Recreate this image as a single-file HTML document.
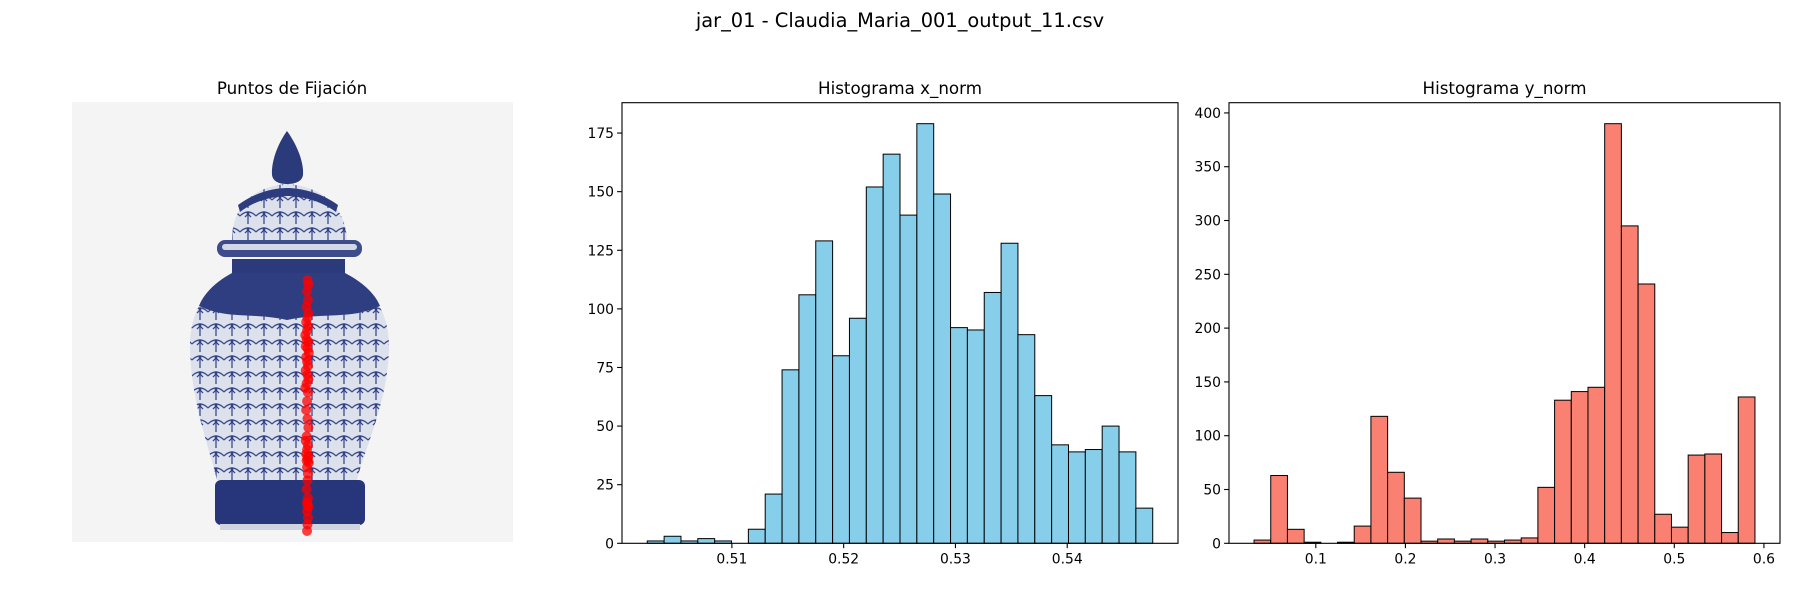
<!DOCTYPE html>
<html><head><meta charset="utf-8">
<style>
html,body{margin:0;padding:0;background:#fff;}
svg{display:block;font-family:"DejaVu Sans","Liberation Sans",sans-serif;}
</style></head>
<body>
<svg id="fig" width="1800" height="600" viewBox="0 0 1800 600" xmlns="http://www.w3.org/2000/svg">
<defs>
<pattern id="motif" width="16" height="16" patternUnits="userSpaceOnUse">
<rect width="16" height="16" fill="#dde1ec"/>
<path d="M0 8 Q8 0 16 8 M8 16 Q8 10 8 6 M5 9 L8 6 L11 9" stroke="#3a4a8c" stroke-width="1.3" fill="none"/>
<circle cx="8" cy="5" r="1.4" fill="#2f3e80"/>
</pattern>
</defs>
<rect width="1800" height="600" fill="#fff"/>
<text x="900" y="27" font-size="19.4" text-anchor="middle" fill="#000">jar_01 - Claudia_Maria_001_output_11.csv</text>

<g>
<text x="292" y="94" font-size="16.7" text-anchor="middle">Puntos de Fijación</text>
<rect x="72" y="102" width="441" height="440" fill="#f4f4f4"/>
<g>
<path d="M287 131 C279 142 271 160 272 175 C273 182 280 184 287 184 C294 184 302 182 303 175 C304 160 295 142 287 131Z" fill="#2b3a7a"/>
<path d="M232 240 C232 205 255 186 287 184 C320 186 345 205 347 240Z" fill="url(#motif)"/>
<path d="M238 205 C255 192 275 188 287 188 C300 188 320 192 338 205 L336 212 C320 200 300 196 287 196 C275 196 255 200 240 212Z" fill="#2d3c7e"/>
<rect x="217" y="240" width="145" height="17" rx="8" fill="#3d4c8a"/>
<rect x="222" y="244" width="135" height="6" rx="3" fill="#d3d8e6"/>
<rect x="232" y="259" width="113" height="14" fill="#2b3a7a"/>
<path d="M232 273 C200 290 190 320 190 345 C190 400 210 450 217 480 L357 480 C364 450 389 400 389 345 C389 320 378 290 345 273Z" fill="url(#motif)"/>
<path d="M232 273 C212 284 203 296 199 306 C230 320 250 312 287 320 C325 312 350 320 380 306 C376 296 366 284 345 273Z" fill="#2f3e80"/>
<rect x="215" y="480" width="150" height="45" rx="6" fill="#27367a"/>
<rect x="220" y="524" width="140" height="6" fill="#d0d4de"/>
</g>
<g id="fix-points"></g>
</g>

<g id="hx"></g>
<g id="hy"></g>
</svg>
<script>
// Fixation points (fraction of image width / height)
const fixX = [0.534,0.536,0.533,0.535,0.532,0.536,0.534,0.531,0.535,0.533,0.529,0.532,0.536,0.530,0.534,0.537,0.531,0.533,0.535,0.530,0.534,0.536,0.532,0.529,0.535,0.533,0.531,0.534,0.536,0.532,0.530,0.535,0.533,0.531,0.536,0.534,0.532,0.537,0.533,0.535,0.534,0.532,0.535,0.533,0.534,0.536,0.533,0.535,0.534,0.533];
const fixY = [0.405,0.415,0.430,0.450,0.465,0.480,0.490,0.500,0.510,0.520,0.530,0.540,0.545,0.555,0.560,0.570,0.580,0.590,0.600,0.610,0.620,0.630,0.640,0.650,0.660,0.680,0.700,0.720,0.740,0.760,0.770,0.780,0.790,0.800,0.805,0.810,0.815,0.820,0.830,0.845,0.860,0.880,0.900,0.910,0.915,0.920,0.930,0.945,0.960,0.975];

const xCounts = [1,3,1,2,1,0,6,21,74,106,129,80,96,152,166,140,179,149,92,91,107,128,89,63,42,39,40,50,39,15];
const xMin = 0.50243, xMax = 0.54765;
const xTicks = [0.51,0.52,0.53,0.54];
const xTickLabels = ["0.51","0.52","0.53","0.54"];
const xYTicks = [0,25,50,75,100,125,150,175];

const yCounts = [3,63,13,1,0,1,16,118,66,42,2,4,2,4,2,3,5,52,133,141,145,390,295,241,27,15,82,83,10,136];
const yMin = 0.0311, yMax = 0.590;
const yTicks = [0.1,0.2,0.3,0.4,0.5,0.6];
const yTickLabels = ["0.1","0.2","0.3","0.4","0.5","0.6"];
const yYTicks = [0,50,100,150,200,250,300,350,400];

const NS = "http://www.w3.org/2000/svg";
function mk(tag, attrs, parent){
  const e = document.createElementNS(NS, tag);
  for (const k in attrs) e.setAttribute(k, attrs[k]);
  parent.appendChild(e);
  return e;
}

const fp = document.getElementById('fix-points');
for (let i=0;i<fixX.length;i++){
  const c = mk('circle',{cx:72+fixX[i]*441, cy:102+fixY[i]*440, r:5, fill:'red','fill-opacity':0.75}, fp);
  
  
}

function hist(g, counts, dmin, dmax, ticks, tickLabels, yticks, L, R, color, title, prefix){
  const T = 102.7, B = 543.3;
  const pad = (dmax-dmin)*0.05;
  const lo = dmin-pad, hi = dmax+pad;
  const maxC = Math.max(...counts)*1.05;
  const sx = v => L + (v-lo)/(hi-lo)*(R-L);
  const sy = v => B - v/maxC*(B-T);
  const t = mk('text',{x:(L+R)/2, y:94, 'font-size':16.7, 'text-anchor':'middle'}, g);
  t.textContent = title;
  
  
  const n = counts.length, w = (dmax-dmin)/n;
  for (let i=0;i<n;i++){
    const x0 = sx(dmin+i*w), x1 = sx(dmin+(i+1)*w);
    const r = mk('rect',{x:x0, y:sy(counts[i]), width:x1-x0, height:B-sy(counts[i]), fill:color, stroke:'#000','stroke-width':1}, g);
    
    
  }
  const fr = mk('rect',{x:L, y:T, width:R-L, height:B-T, fill:'none', stroke:'#000','stroke-width':1.1}, g);
  
  
  ticks.forEach((v,i)=>{
    const x = sx(v);
    mk('line',{x1:x,x2:x,y1:B,y2:B+4.9,stroke:'#000','stroke-width':1.1}, g);
    const tl = mk('text',{x:x, y:B+20, 'font-size':13.9, 'text-anchor':'middle'}, g);
    tl.textContent = tickLabels[i];
    
    
  });
  yticks.forEach(v=>{
    const y = sy(v);
    mk('line',{x1:L-4.9,x2:L,y1:y,y2:y,stroke:'#000','stroke-width':1.1}, g);
    const tl = mk('text',{x:L-8, y:y+5, 'font-size':13.9, 'text-anchor':'end'}, g);
    tl.textContent = String(v);
    
    
  });
}
hist(document.getElementById('hx'), xCounts, xMin, xMax, xTicks, xTickLabels, xYTicks, 622, 1178, '#87ceeb', 'Histograma x_norm', 'x-norm');
hist(document.getElementById('hy'), yCounts, yMin, yMax, yTicks, yTickLabels, yYTicks, 1229, 1780, '#fa8072', 'Histograma y_norm', 'y-norm');
</script>
</body></html>
